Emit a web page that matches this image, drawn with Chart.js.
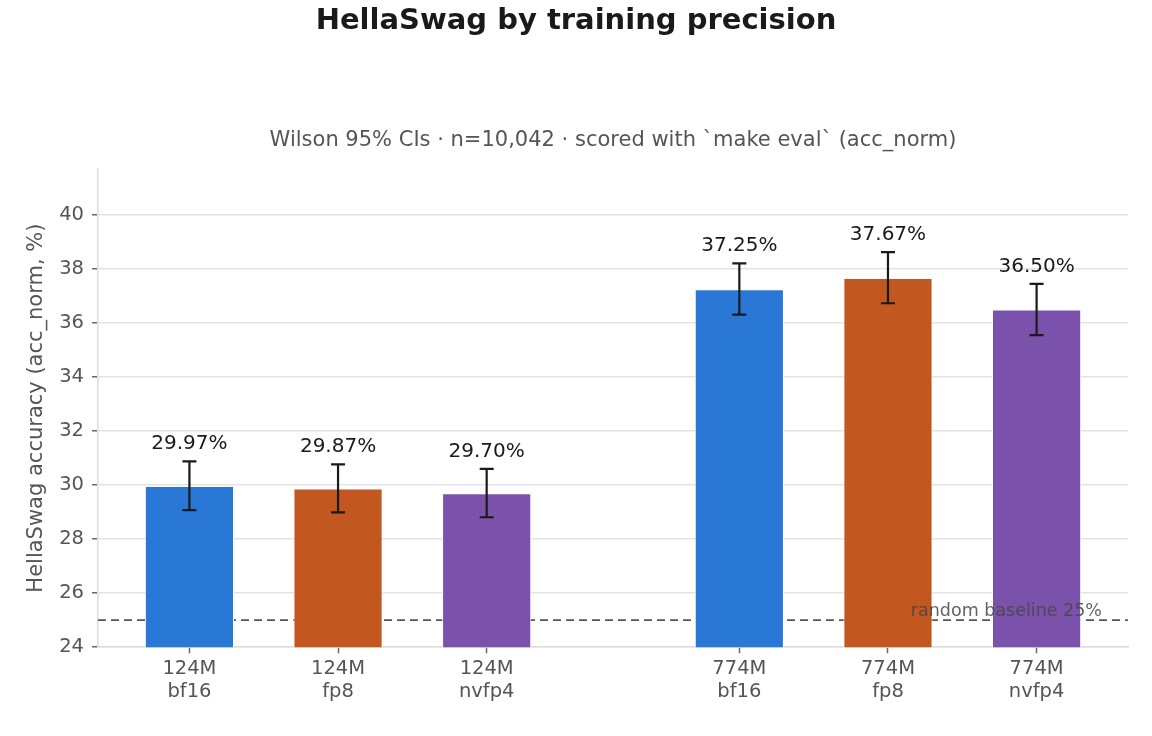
<!DOCTYPE html>
<html>
<head>
<meta charset="utf-8">
<title>HellaSwag by training precision</title>
<script src="https://cdn.jsdelivr.net/npm/chart.js@4.4.1/dist/chart.umd.min.js"></script>
<style>
    html, body { margin: 0; padding: 0; background: #fff; }
    #wrap { width: 1152px; height: 736px; }
</style>
</head>
<body>
<div id="wrap"><canvas id="hellaChart"></canvas></div>
<script>
// Data
const modelSizes = ['124M', '124M', '124M', '774M', '774M', '774M'];
const precisions = ['bf16', 'fp8', 'nvfp4', 'bf16', 'fp8', 'nvfp4'];
const xPositions = [0, 1, 2, 3.7, 4.7, 5.7];
const accuracy = [29.97, 29.87, 29.70, 37.25, 37.67, 36.50];
const ciLow = [29.07, 28.99, 28.81, 36.31, 36.73, 35.55];
const ciHigh = [30.88, 30.77, 30.60, 38.21, 38.62, 37.45];
const barColors = ['#2a78d6', '#c2571f', '#7b52ab', '#2a78d6', '#c2571f', '#7b52ab'];
const yTicks = [24, 26, 28, 30, 32, 34, 36, 38, 40];
const baselineValue = 25;
const baselineLabel = 'random baseline 25%';

const FONT = "'DejaVu Sans', sans-serif";
const X_MIN = -0.615, X_MAX = 6.315;

// error bars + value labels on top of the bars
const errorBarPlugin = {
    id: 'errorBars',
    afterDatasetsDraw(chart) {
        const ctx = chart.ctx;
        const x = chart.scales.x;
        const y = chart.scales.y;
        ctx.save();
        ctx.strokeStyle = '#1a1a1a';
        ctx.lineWidth = 2.2;
        xPositions.forEach((pos, i) => {
            const px = x.getPixelForValue(pos);
            const top = y.getPixelForValue(ciHigh[i]);
            const bot = y.getPixelForValue(ciLow[i]);
            ctx.beginPath();
            ctx.moveTo(px, top);
            ctx.lineTo(px, bot);
            ctx.moveTo(px - 7, top);
            ctx.lineTo(px + 7, top);
            ctx.moveTo(px - 7, bot);
            ctx.lineTo(px + 7, bot);
            ctx.stroke();

            ctx.fillStyle = '#1a1a1a';
            ctx.font = '20px ' + FONT;
            ctx.textAlign = 'center';
            ctx.textBaseline = 'alphabetic';
            ctx.fillText(accuracy[i].toFixed(2) + '%', px, top - 12);
        });

        // baseline caption sits over the bars
        ctx.fillStyle = 'rgba(70,70,70,0.85)';
        ctx.font = '17.5px ' + FONT;
        ctx.textAlign = 'right';
        ctx.textBaseline = 'alphabetic';
        ctx.fillText(baselineLabel, x.right - 26, y.getPixelForValue(baselineValue) - 4);
        ctx.restore();
    }
};

const chart = new Chart(document.getElementById('hellaChart'), {
    type: 'bar',
    data: {
        datasets: [{
            type: 'bar',
            data: xPositions.map((p, i) => ({ x: p, y: accuracy[i] })),
            backgroundColor: barColors,
            borderColor: '#ffffff',
            borderWidth: 1,
            barPercentage: 0.6,
            categoryPercentage: 1.0,
            order: 1
        }, {
            type: 'line',
            data: [{ x: X_MIN, y: baselineValue }, { x: X_MAX, y: baselineValue }],
            borderColor: '#555555',
            borderWidth: 1.8,
            borderDash: [8, 5],
            pointRadius: 0,
            fill: false,
            order: 2
        }]
    },
    options: {
        responsive: true,
        maintainAspectRatio: false,
        animation: false,
        layout: { padding: { left: 24, right: 24, bottom: 28, top: 0 } },
        plugins: {
            legend: { display: false },
            tooltip: { enabled: false },
            title: {
                display: true,
                text: 'HellaSwag by training precision',
                color: '#1a1a1a',
                font: { family: FONT, size: 29, weight: 'bold' },
                padding: { top: 4, bottom: 89 }
            },
            subtitle: {
                display: true,
                fullSize: false,
                text: 'Wilson 95% CIs · n=10,042 · scored with `make eval` (acc_norm)',
                color: '#555555',
                font: { family: FONT, size: 21 },
                padding: { top: 0, bottom: 16 }
            }
        },
        scales: {
            x: {
                type: 'linear',
                min: X_MIN,
                max: X_MAX,
                offset: false,
                afterBuildTicks: scale => {
                    scale.ticks = xPositions.map(v => ({ value: v }));
                },
                ticks: {
                    autoSkip: false,
                    maxRotation: 0,
                    color: '#555555',
                    font: { family: FONT, size: 19.5 },
                    padding: 4,
                    callback: (val) => {
                        const i = xPositions.indexOf(val);
                        return i >= 0 ? [modelSizes[i], precisions[i]] : '';
                    }
                },
                grid: {
                    offset: false,
                    drawOnChartArea: false,
                    drawTicks: true,
                    tickLength: 6,
                    tickWidth: 1.5,
                    tickColor: '#666666'
                },
                border: { color: '#dddddd', width: 1.5 }
            },
            y: {
                min: 24,
                max: 41.7,
                afterBuildTicks: scale => {
                    scale.ticks = yTicks.map(v => ({ value: v }));
                },
                ticks: {
                    color: '#555555',
                    font: { family: FONT, size: 19.5 },
                    padding: 8
                },
                grid: {
                    color: '#e3e3e3',
                    lineWidth: 1.5,
                    tickLength: 6,
                    tickWidth: 1.5,
                    tickColor: '#666666'
                },
                border: { color: '#dddddd', width: 1.5 },
                title: {
                    display: true,
                    text: 'HellaSwag accuracy (acc_norm, %)',
                    color: '#555555',
                    font: { family: FONT, size: 21 },
                    padding: { top: 0, bottom: 2 }
                }
            }
        }
    },
    plugins: [errorBarPlugin]
});
</script>
</body>
</html>
